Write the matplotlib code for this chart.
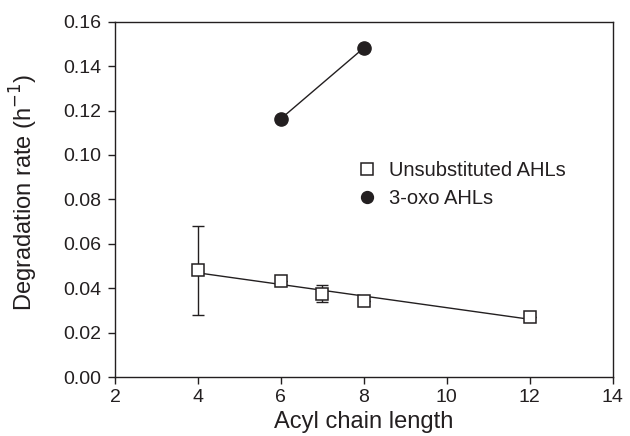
import numpy as np
import matplotlib
matplotlib.use("Agg")
import matplotlib.pyplot as plt

plt.rcParams['font.family'] = ['Liberation Sans', 'DejaVu Sans']

# unsubstituted AHLs
unsub_x = [4, 6, 7, 8, 12]
unsub_y = [0.048, 0.0434, 0.0375, 0.0344, 0.027]
unsub_err_lo = [0.020, 0.0, 0.0038, 0.0, 0.0]
unsub_err_hi = [0.020, 0.0, 0.0040, 0.0, 0.0]
# fitted line endpoints
fit_x = [4, 12]
fit_y = [0.0469, 0.0260]

# 3-oxo AHLs
oxo_x = [6, 8]
oxo_y = [0.1163, 0.1482]

ink = '#231f20'

fig = plt.figure(figsize=(6.3, 4.36), dpi=100)
ax = fig.add_axes([0.1825, 0.1353, 0.790, 0.8149])

ax.plot(fit_x, fit_y, color=ink, lw=1, zorder=1)
ax.plot(oxo_x, oxo_y, color=ink, lw=1, zorder=1)
ax.errorbar(unsub_x, unsub_y, yerr=[unsub_err_lo, unsub_err_hi], fmt='none',
            ecolor=ink, elinewidth=1, capsize=4.5, capthick=1, zorder=2)
ax.plot(unsub_x, unsub_y, 's', ms=9, mfc='white', mec=ink, mew=1.1,
        ls='none', zorder=3, label='Unsubstituted AHLs')
ax.plot(oxo_x, oxo_y, 'o', ms=9.5, mfc=ink, mec=ink,
        ls='none', zorder=3, label='3-oxo AHLs')

ax.set_xlim(2, 14)
ax.set_ylim(0, 0.16)
ax.set_xticks(np.arange(2, 15, 2))
yt = np.arange(0, 0.161, 0.02)
ax.set_yticks(yt)
ax.set_yticklabels([f"{v:.2f}" for v in yt])
ax.tick_params(direction='out', labelsize=14, length=5, width=1, color=ink,
               labelcolor=ink)
ax.tick_params(axis='y', pad=5)
for s in ax.spines.values():
    s.set_linewidth(1)
    s.set_color(ink)

ax.set_xlabel('Acyl chain length', fontsize=17, color=ink)
ax.set_ylabel('Degradation rate (h$^{\u2212 1}$)', fontsize=17, color=ink)
ax.xaxis.set_label_coords(0.5, -0.095)
ax.yaxis.set_label_coords(-0.15, 0.52)

ax.legend(loc='center left', bbox_to_anchor=(0.486, 0.541), frameon=False,
          fontsize=14.5, handlelength=1.0, handletextpad=0.62,
          labelspacing=0.45, borderpad=0, borderaxespad=0, markerscale=0.9,
          labelcolor=ink)

fig.savefig('out.png', dpi=100)
